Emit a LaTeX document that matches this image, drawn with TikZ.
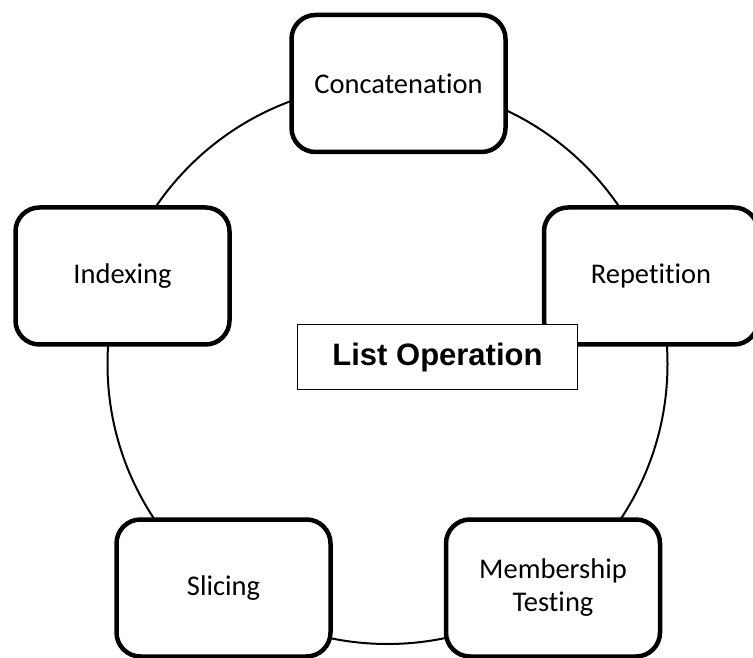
\documentclass[tikz,border=0pt]{standalone}
\usepackage{fontspec}
\setmainfont[Ligatures=NoCommon]{Carlito}
\newfontfamily\headfont{Liberation Sans}
\begin{document}
\begin{tikzpicture}[x=1pt,y=1pt,
		opbox/.style={draw,line width=4.5pt,rounded corners=24pt,fill=white,
			minimum width=214pt,minimum height=137pt,inner sep=0pt,align=center,
			font=\fontsize{28.5}{33}\selectfont},
		titlebox/.style={draw,line width=1pt,fill=white,minimum width=280pt,
			minimum height=65pt,inner sep=0pt,font=\headfont\bfseries\fontsize{31}{36}\selectfont}]
	\useasboundingbox (0,0) rectangle (753,657);
	\coordinate (hub) at (387.5,293);
	\draw[line width=2pt] (hub) circle (280pt);
	\node[opbox] (concat) at (398.5,573.5) {Concatenation};
	\node[opbox] (index) at (122.5,381) {Indexing};
	\node[opbox] (repeat) at (651,381) {Repetition};
	\node[opbox] (slice) at (223.5,69) {Slicing};
	\node[opbox] (member) at (553,69) {Membership\\Testing};
	\node[titlebox] (title) at (437.5,300) {List Operation};
\end{tikzpicture}
\end{document}
